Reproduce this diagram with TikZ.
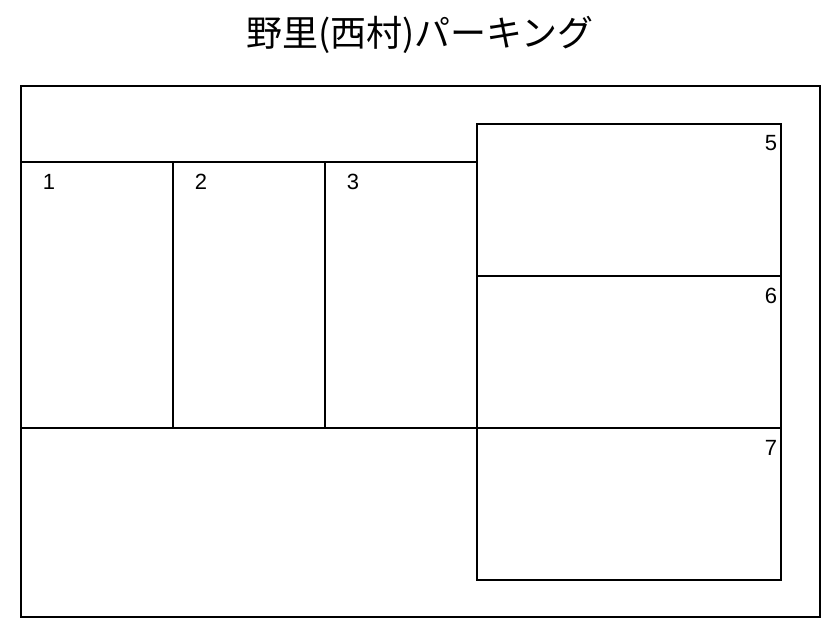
\documentclass[tikz,border=0pt]{standalone}
\usepackage{fontspec}
\setmainfont{Liberation Sans}
\newfontfamily\jpfont{Noto Sans CJK JP}
\usepackage{tikz}
\usetikzlibrary{positioning}

\begin{document}
\begin{tikzpicture}[x=1pt,y=-1pt,
		lot/.style={black, line width=2pt},
		num/.style={font=\fontsize{22}{26}\selectfont}]
		\useasboundingbox (0,0) rectangle (840,625);
		\node[font=\jpfont\fontsize{36}{40}\selectfont] (title) at (420,35){野里(西村)パーキング};
		\draw[lot] (21,86) rectangle (820,617);
		\draw[lot] (21,162)--(477,162);
		\draw[lot] (21,428)--(477,428);
		\draw[lot] (173,162)--(173,428);
		\draw[lot] (325,162)--(325,428);
		\draw[lot] (477,124) rectangle (781,580);
		\draw[lot] (477,276)--(781,276);
		\draw[lot] (477,428)--(781,428);
		%
		\node[num] (n1) at (49,182){1};
		\node[num] (n2) at (201,182){2};
		\node[num] (n3) at (353,182){3};
		\node[num] (n5) at (771,143){5};
		\node[num] (n6) at (771,296){6};
		\node[num] (n7) at (771,448){7};
	\end{tikzpicture}
\end{document}
